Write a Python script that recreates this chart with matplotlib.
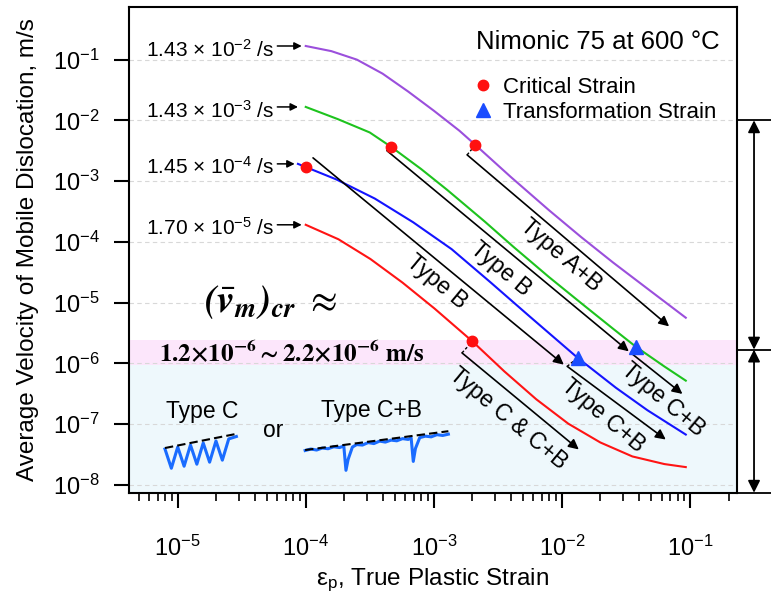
import matplotlib
matplotlib.use('Agg')
import matplotlib.pyplot as plt
from matplotlib.ticker import LogLocator, NullLocator

plt.rcParams['font.family'] = ['Liberation Sans', 'DejaVu Sans']
plt.rcParams['mathtext.fontset'] = 'custom'
plt.rcParams['mathtext.rm'] = 'Liberation Sans'
plt.rcParams['mathtext.it'] = 'Liberation Sans:italic'
plt.rcParams['mathtext.bf'] = 'Liberation Sans:bold'

# strain rates
rate_labels = ['1.43 × 10$^{-2}$ /s', '1.43 × 10$^{-3}$ /s',
               '1.45 × 10$^{-4}$ /s', '1.70 × 10$^{-5}$ /s']
colors = ['#9b4fdc', '#1ec31e', '#1414ff', '#ff1414']

# average velocity of mobile dislocation vs true plastic strain
purple_x = [1.0e-4, 1.585e-4, 2.51e-4, 3.98e-4, 6.31e-4, 1.0e-3, 1.585e-3, 2.11e-3, 3.98e-3,
            7.94e-3, 1.413e-2, 2.51e-2, 5.01e-2, 9.27e-2]
purple_y = [0.167, 0.1374, 0.0995, 0.0586, 0.0297, 0.01439, 6.73e-3, 3.94e-3, 1.175e-3,
            3.31e-4, 1.20e-4, 4.57e-5, 1.51e-5, 5.65e-6]
green_x = [1.0e-4, 1.778e-4, 3.16e-4, 4.65e-4, 7.94e-4, 1.27e-3, 2.51e-3, 4.18e-3, 7.94e-3,
           1.40e-2, 2.51e-2, 3.77e-2, 6.31e-2, 9.27e-2]
green_y = [0.0166, 0.01047, 6.31e-3, 3.65e-3, 1.585e-3, 7.18e-4, 2.14e-4, 8.3e-5, 2.63e-5,
           9.98e-6, 3.72e-6, 1.89e-6, 8.91e-7, 5.21e-7]
blue_x = [8.69e-5, 1.73e-4, 3.46e-4, 6.90e-4, 1.377e-3, 2.75e-3, 5.48e-3, 1.325e-2, 2.64e-2,
          4.65e-2, 9.27e-2]
blue_y = [1.92e-3, 1.067e-3, 5.16e-4, 2.10e-4, 7.59e-5, 2.19e-5, 6.17e-6, 1.24e-6, 3.98e-7,
          1.70e-7, 6.76e-8]
red_x = [1.0e-4, 1.80e-4, 3.20e-4, 5.69e-4, 1.01e-3, 2.0e-3, 3.55e-3, 6.31e-3, 1.122e-2,
         1.995e-2, 3.55e-2, 6.31e-2, 9.27e-2]
red_y = [1.91e-4, 1.104e-4, 5.22e-5, 2.14e-5, 8.04e-6, 2.31e-6, 7.41e-7, 2.57e-7, 1.02e-7,
         5.01e-8, 2.95e-8, 2.21e-8, 1.97e-8]

# critical strain and transformation strain points
crit_x = [2.11e-3, 4.65e-4, 1.0e-4, 2.0e-3]
crit_y = [3.94e-3, 3.65e-3, 1.71e-3, 2.31e-6]
trans_x = [3.77e-2, 1.325e-2]
trans_y = [1.89e-6, 1.24e-6]

# critical velocity band
band_lo, band_hi = 9.5e-7, 2.4e-6

# inset sketches of serration types
tc_x = [0.0, 0.5, 1.0, 1.5, 2.0, 2.5, 3.0, 3.5, 4.0, 4.5, 5.0, 5.6]
tc_y = [0.00, -0.95, 0.10, -0.85, 0.20, -0.75, 0.30, -0.65, 0.40, -0.55, 0.50, 0.62]
tcb_x = [0.0, 0.4, 0.8, 1.2, 1.6, 2.0, 2.4, 2.7, 2.85, 3.0, 3.3, 3.6, 4.0, 4.4, 4.8, 5.2,
         5.6, 6.0, 6.4, 6.8, 7.2, 7.4, 7.55, 7.7, 8.0, 8.4, 8.8, 9.2, 9.6, 10.0]
tcb_y = [0.0, 0.15, 0.05, 0.25, 0.18, 0.38, 0.30, 0.45, -2.0, -0.9, 0.35, 0.60, 0.55, 0.80, 0.70, 0.95,
         0.85, 1.05, 0.98, 1.20, 1.12, 1.28, -1.1, 0.2, 1.30, 1.45, 1.38, 1.60, 1.52, 1.65]

fig = plt.figure(figsize=(7.71, 6.0), dpi=100)
ax = fig.add_axes([0.1673, 0.1788, 0.7886, 0.809])
ax.set_xscale('log')
ax.set_yscale('log')
ax.set_xlim(10 ** -5.38, 10 ** -0.633)
ax.set_ylim(10 ** -8.127, 10 ** -0.141)

ax.axhspan(10 ** -8.127, band_lo, color='#eef8fc', lw=0, zorder=0)
ax.axhspan(band_lo, band_hi, color='#fce6fb', lw=0, zorder=0)
ax.grid(axis='y', which='major', color='#d8d8d8', ls=(0, (4, 3)), lw=0.8)
ax.set_axisbelow(True)

curves = [(purple_x, purple_y), (green_x, green_y), (blue_x, blue_y), (red_x, red_y)]
for (cx, cy), c in zip(curves, colors):
    ax.plot(cx, cy, color=c, lw=1.5, zorder=3, solid_joinstyle='round')

ax.plot(crit_x, crit_y, 'o', color='#ff1010', ms=7.5, ls='none', zorder=5, label='Critical Strain')
ax.plot(trans_x, trans_y, '^', color='#1a4cff', ms=10, ls='none', zorder=5, label='Transformation Strain')

# rate labels with arrows to the start of each curve
heads = [9.3e-5, 8.7e-5, 8.2e-5, 9.3e-5]
for lab, (cx, cy), hx in zip(rate_labels, curves, heads):
    ax.annotate('', xy=(hx, cy[0]), xytext=(6.0e-5, cy[0]),
                arrowprops=dict(arrowstyle='-|>', color='k', lw=1.1, shrinkA=0, shrinkB=0, mutation_scale=11))
    ax.annotate(lab, xy=(6.0e-5, cy[0]), xytext=(-2, -7.5), textcoords='offset points',
                ha='right', va='baseline', fontsize=15)

# deformation type arrows: (start, end, marker it leaves from, label, label pos, rotation)
type_arrows = [
    ((1.82e-3, 2.70e-3), (0.0687, 4.07e-6), (2.11e-3, 3.94e-3), 'Type A+B', (9.75e-3, 6.13e-5), -40.5),
    ((4.30e-4, 3.17e-3), (0.0333, 1.58e-6), (4.65e-4, 3.65e-3), 'Type B', (3.31e-3, 3.61e-5), -39.8),
    ((1.14e-4, 2.41e-3), (0.01035, 9.55e-7), None, 'Type B', (1.06e-3, 2.21e-5), -39.6),
    ((0.0344, 1.50e-6), (0.0873, 3.15e-7), (3.77e-2, 1.89e-6), 'Type C+B', (0.0620, 2.55e-7), -40),
    ((0.0110, 8.95e-7), (0.0647, 5.6e-8), (1.325e-2, 1.24e-6), 'Type C+B', (0.0208, 1.39e-7), -40),
    ((1.66e-3, 1.49e-6), (0.01355, 3.84e-8), (2.0e-3, 2.31e-6), 'Type C & C+B', (3.82e-3, 1.24e-7), -39.7),
]
for start, end, mk, lab, pos, rot in type_arrows:
    ax.annotate('', xy=end, xytext=start,
                arrowprops=dict(arrowstyle='-|>', color='k', lw=1.2, shrinkA=0, shrinkB=0, mutation_scale=15))
    if mk is not None:
        ax.plot([start[0], mk[0]], [start[1], mk[1]], color='k', lw=1, ls=(0, (2, 1.5)), zorder=4)
    ax.text(pos[0], pos[1], lab, rotation=rot, rotation_mode='anchor', ha='center', va='center',
            fontsize=16.5)

# right side brackets
tr = ax.get_yaxis_transform()
for yv in [1.0e-2, 1.69e-6, 10 ** -8.127]:
    ax.plot([1.0, 1.06], [yv, yv], color='k', lw=1.3, transform=tr, clip_on=False)
ax.annotate('', xy=(1.028, 1.0e-2), xytext=(1.028, 1.69e-6), xycoords=tr, textcoords=tr,
            annotation_clip=False,
            arrowprops=dict(arrowstyle='<|-|>', color='k', lw=1.3, shrinkA=0, shrinkB=0, mutation_scale=18))
ax.annotate('', xy=(1.028, 1.69e-6), xytext=(1.028, 10 ** -8.127), xycoords=tr, textcoords=tr,
            annotation_clip=False,
            arrowprops=dict(arrowstyle='<|-|>', color='k', lw=1.3, shrinkA=0, shrinkB=0, mutation_scale=18))

# texts
ax.text(0.972, 0.929, 'Nimonic 75 at 600 °C', transform=ax.transAxes, ha='right', va='center', fontsize=18.5)
ax.legend(loc='upper left', bbox_to_anchor=(0.564, 0.857), frameon=False, fontsize=16,
          handletextpad=0.4, labelspacing=0.2, borderaxespad=0, borderpad=0, handlelength=1.0)
ax.text(0.233, 0.393, r'$\mathbfit{(}\bar{\mathbfit{v}}_{\mathbfit{m}}\mathbfit{)}_{\mathbfit{cr}}\ \approx$',
        transform=ax.transAxes, ha='center', va='center', fontsize=28, math_fontfamily='stix')
ax.text(0.05, 0.288, r'$\mathbf{1.2{\times}10^{-6}\sim 2.2{\times}10^{-6}\ m/s}$', transform=ax.transAxes,
        ha='left', va='center', fontsize=18, math_fontfamily='stix')

ax.text(0.12, 0.167, 'Type C', transform=ax.transAxes, ha='center', va='center', fontsize=16.5)
ax.text(0.237, 0.129, 'or', transform=ax.transAxes, ha='center', va='center', fontsize=16.5)
ax.text(0.399, 0.170, 'Type C+B', transform=ax.transAxes, ha='center', va='center', fontsize=16.5)

ins1 = ax.inset_axes([0.055, 0.04, 0.13, 0.1])
ins1.plot(tc_x, tc_y, color='#1a6cff', lw=2.2)
ins1.plot([tc_x[0], tc_x[-1]], [0.05, 0.75], color='k', lw=1.5, ls=(0, (4, 2)))
ins1.set_xlim(-0.2, 6.0)
ins1.set_ylim(-1.2, 1.2)
ins1.axis('off')

ins2 = ax.inset_axes([0.285, 0.04, 0.245, 0.1])
ins2.plot(tcb_x, tcb_y, color='#1a6cff', lw=2.2)
ins2.plot([tcb_x[0], tcb_x[-1]], [0.05, 1.95], color='k', lw=1.5, ls=(0, (4, 2)))
ins2.set_xlim(-0.2, 10.2)
ins2.set_ylim(-2.3, 2.6)
ins2.axis('off')

# axes styling
for s in ax.spines.values():
    s.set_linewidth(1.5)
ax.yaxis.set_major_locator(LogLocator(base=10, numticks=20))
ax.yaxis.set_minor_locator(NullLocator())
ax.xaxis.set_major_locator(LogLocator(base=10, numticks=20))
ax.xaxis.set_minor_locator(LogLocator(base=10, subs=range(2, 10), numticks=20))
ax.tick_params(axis='y', which='major', direction='out', length=11, width=1.5, pad=10, labelsize=17)
ax.tick_params(axis='x', which='major', direction='out', length=11, width=1.5, pad=20, labelsize=17)
ax.tick_params(axis='x', which='minor', direction='out', length=5.5, width=1.2)

ax.set_xlabel('ε$_\\mathrm{p}$, True Plastic Strain', fontsize=17.5, labelpad=4)
ax.set_ylabel('Average Velocity of Mobile Dislocation, m/s', fontsize=17.5, labelpad=10)

fig.savefig('out.png', dpi=100)
